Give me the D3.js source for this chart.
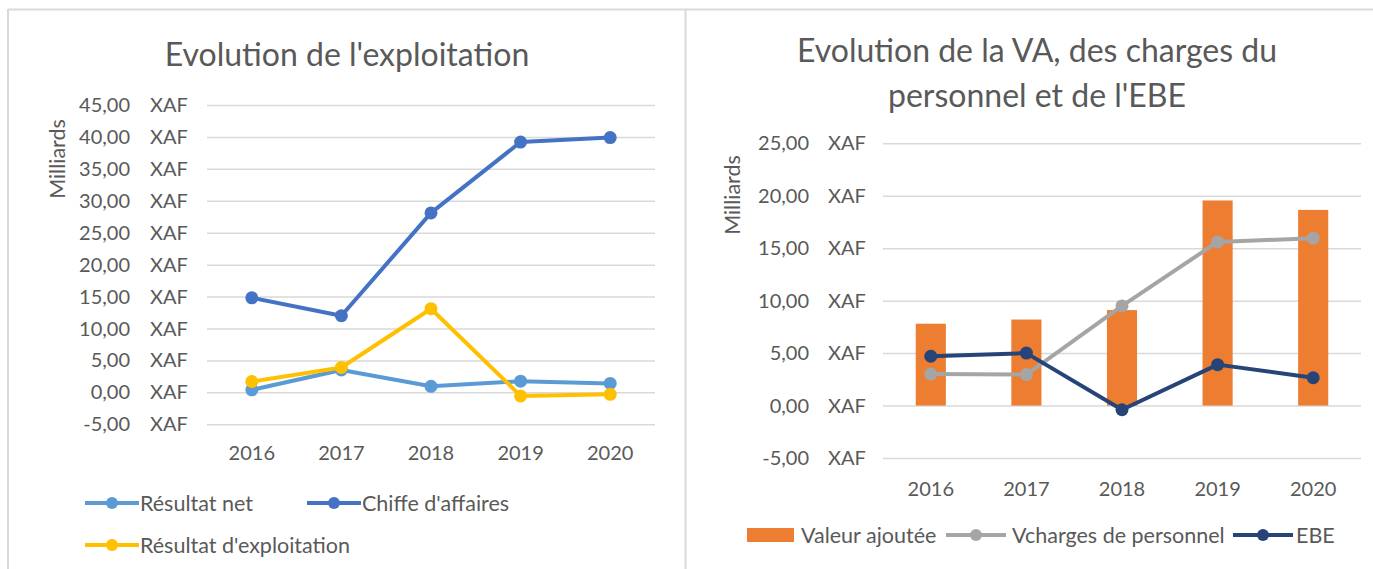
<!DOCTYPE html>
<html>
<head>
<meta charset="utf-8">
<script src="https://cdn.jsdelivr.net/npm/d3@7"></script>
<style>
  html, body { margin: 0; padding: 0; background: #fff; }
  svg text { font-family: Lato, "Open Sans", sans-serif; fill: #595959; }
</style>
</head>
<body>
<svg id="chart" width="1373" height="569"></svg>
<script>
// Years shared by both charts
const years = ["2016", "2017", "2018", "2019", "2020"];

// Chart 1 – operating results (billions XAF)
const resultatNet = [0.4, 3.5, 0.95, 1.75, 1.4];
const chiffreAffaires = [14.8, 12.0, 28.1, 39.2, 39.9];
const resultatExploitation = [1.7, 3.9, 13.1, -0.55, -0.3];
const ticksLeft = [-5, 0, 5, 10, 15, 20, 25, 30, 35, 40, 45];

// Chart 2 – value added, staff costs and EBE (billions XAF)
const valeurAjoutee = [7.8, 8.2, 9.1, 19.55, 18.65];
const chargesPersonnel = [3.0, 2.95, 9.5, 15.6, 15.95];
const ebe = [4.7, 5.0, -0.4, 3.9, 2.65];
const ticksRight = [-5, 0, 5, 10, 15, 20, 25];

const C = {
  lightBlue: "#5B9BD5",
  blue: "#4472C4",
  gold: "#FFC000",
  orange: "#ED7D31",
  gray: "#A5A5A5",
  navy: "#264478",
  grid: "#d9d9d9",
  border: "#d9d9d9"
};

const svg = d3.select("#chart");
const fmt = v => d3.format(".2f")(v).replace(".", ",").replace("\u2212", "-");

// Panel frames
svg.append("line").attr("x1", 8).attr("x2", 1373).attr("y1", 9.5).attr("y2", 9.5)
  .attr("stroke", C.border).attr("stroke-width", 2);
svg.append("line").attr("x1", 8).attr("x2", 8).attr("y1", 9).attr("y2", 569)
  .attr("stroke", C.border).attr("stroke-width", 2);
svg.append("line").attr("x1", 685.5).attr("x2", 685.5).attr("y1", 9).attr("y2", 569)
  .attr("stroke", C.border).attr("stroke-width", 2);

function drawPanel(opt) {
  const g = svg.append("g");
  const x = d3.scaleBand().domain(years).range(opt.xRange);
  const y = d3.scaleLinear().domain(opt.yDomain).range(opt.yRange);

  // Title
  const title = g.append("text")
    .attr("x", opt.titleX).attr("y", opt.titleY)
    .attr("text-anchor", "middle")
    .style("font-size", "32px");
  opt.title.forEach((t, i) => {
    title.append("tspan").attr("x", opt.titleX).attr("dy", i === 0 ? 0 : 45).text(t);
  });

  // Gridlines
  const yAxis = d3.axisLeft(y).tickValues(opt.ticks)
    .tickSize(-(opt.xRange[1] - opt.xRange[0])).tickFormat("");
  const ga = g.append("g").attr("transform", `translate(${opt.xRange[0]},0)`).call(yAxis);
  ga.select(".domain").remove();
  ga.selectAll(".tick line").attr("stroke", C.grid).attr("stroke-width", 1.5);

  // Tick labels: value right-aligned, currency left-aligned
  opt.ticks.forEach(t => {
    g.append("text").attr("x", opt.numRight).attr("y", y(t)).attr("dy", "0.35em")
      .attr("text-anchor", "end").style("font-size", "20px").text(fmt(t));
    g.append("text").attr("x", opt.curLeft).attr("y", y(t)).attr("dy", "0.35em")
      .style("font-size", "20px").text("XAF");
  });

  // Axis unit label
  g.append("text")
    .attr("transform", `translate(${opt.unitX},${opt.unitY}) rotate(-90)`)
    .attr("text-anchor", "middle").attr("dy", "0.35em")
    .style("font-size", "21.5px").text("Milliards");

  // Category labels
  const xAxis = d3.axisBottom(x).tickSize(0).tickPadding(0);
  const gx = g.append("g").attr("transform", `translate(0,${opt.catY})`).call(xAxis);
  gx.select(".domain").remove();
  gx.selectAll("text").attr("dy", "0.35em").style("font-size", "20px")
    .attr("fill", "#595959").style("font-family", "Lato, sans-serif");

  // Bars
  (opt.bars || []).forEach(s => {
    const bw = x.bandwidth() * 0.315;
    g.selectAll(null).data(s.values).join("rect")
      .attr("x", (d, i) => x(years[i]) + x.bandwidth() / 2 - bw / 2)
      .attr("width", bw)
      .attr("y", d => y(Math.max(0, d)))
      .attr("height", d => Math.abs(y(d) - y(0)))
      .attr("fill", s.color);
  });

  // Lines with markers
  const line = d3.line().x((d, i) => x(years[i]) + x.bandwidth() / 2).y(d => y(d));
  opt.lines.forEach(s => {
    g.append("path").datum(s.values).attr("d", line)
      .attr("fill", "none").attr("stroke", s.color).attr("stroke-width", 4)
      .attr("stroke-linejoin", "round");
    g.selectAll(null).data(s.values).join("circle")
      .attr("cx", (d, i) => x(years[i]) + x.bandwidth() / 2)
      .attr("cy", d => y(d)).attr("r", 6.5).attr("fill", s.color);
  });

  // Legend
  opt.legend.forEach(l => {
    const lg = g.append("g").attr("transform", `translate(${l.x},${l.y})`);
    if (l.type === "bar") {
      lg.append("rect").attr("x", 0).attr("y", -7).attr("width", l.w).attr("height", 14).attr("fill", l.color);
    } else {
      lg.append("line").attr("x1", 0).attr("x2", l.w).attr("stroke", l.color).attr("stroke-width", 4);
      lg.append("circle").attr("cx", l.w / 2).attr("r", 6).attr("fill", l.color);
    }
    lg.append("text").attr("x", l.tx).attr("dy", "0.35em").style("font-size", "21.5px").text(l.label);
  });
}

drawPanel({
  title: ["Evolution de l'exploitation"],
  titleX: 347, titleY: 66,
  xRange: [207, 655],
  yDomain: [-5, 45], yRange: [424.3, 105],
  ticks: ticksLeft,
  numRight: 130, curLeft: 150,
  unitX: 57, unitY: 159,
  catY: 453,
  lines: [
    { values: resultatNet, color: C.lightBlue },
    { values: chiffreAffaires, color: C.blue },
    { values: resultatExploitation, color: C.gold }
  ],
  legend: [
    { x: 85, y: 503, w: 54, tx: 55, color: C.lightBlue, label: "Résultat net" },
    { x: 307, y: 503, w: 54, tx: 55, color: C.blue, label: "Chiffe d'affaires" },
    { x: 85, y: 545, w: 54, tx: 55, color: C.gold, label: "Résultat d'exploitation" }
  ]
});

drawPanel({
  title: ["Evolution de la VA, des charges du", "personnel et de l'EBE"],
  titleX: 1037, titleY: 62,
  xRange: [883, 1361],
  yDomain: [-5, 25], yRange: [458, 143.3],
  ticks: ticksRight,
  numRight: 809, curLeft: 828,
  unitX: 732, unitY: 195,
  catY: 489,
  bars: [{ values: valeurAjoutee, color: C.orange }],
  lines: [
    { values: chargesPersonnel, color: C.gray },
    { values: ebe, color: C.navy }
  ],
  legend: [
    { x: 747, y: 535, type: "bar", w: 47, tx: 54, color: C.orange, label: "Valeur ajoutée" },
    { x: 946, y: 535, w: 60, tx: 66, color: C.gray, label: "Vcharges de personnel" },
    { x: 1233, y: 535, w: 60, tx: 63, color: C.navy, label: "EBE" }
  ]
});
</script>
</body>
</html>
